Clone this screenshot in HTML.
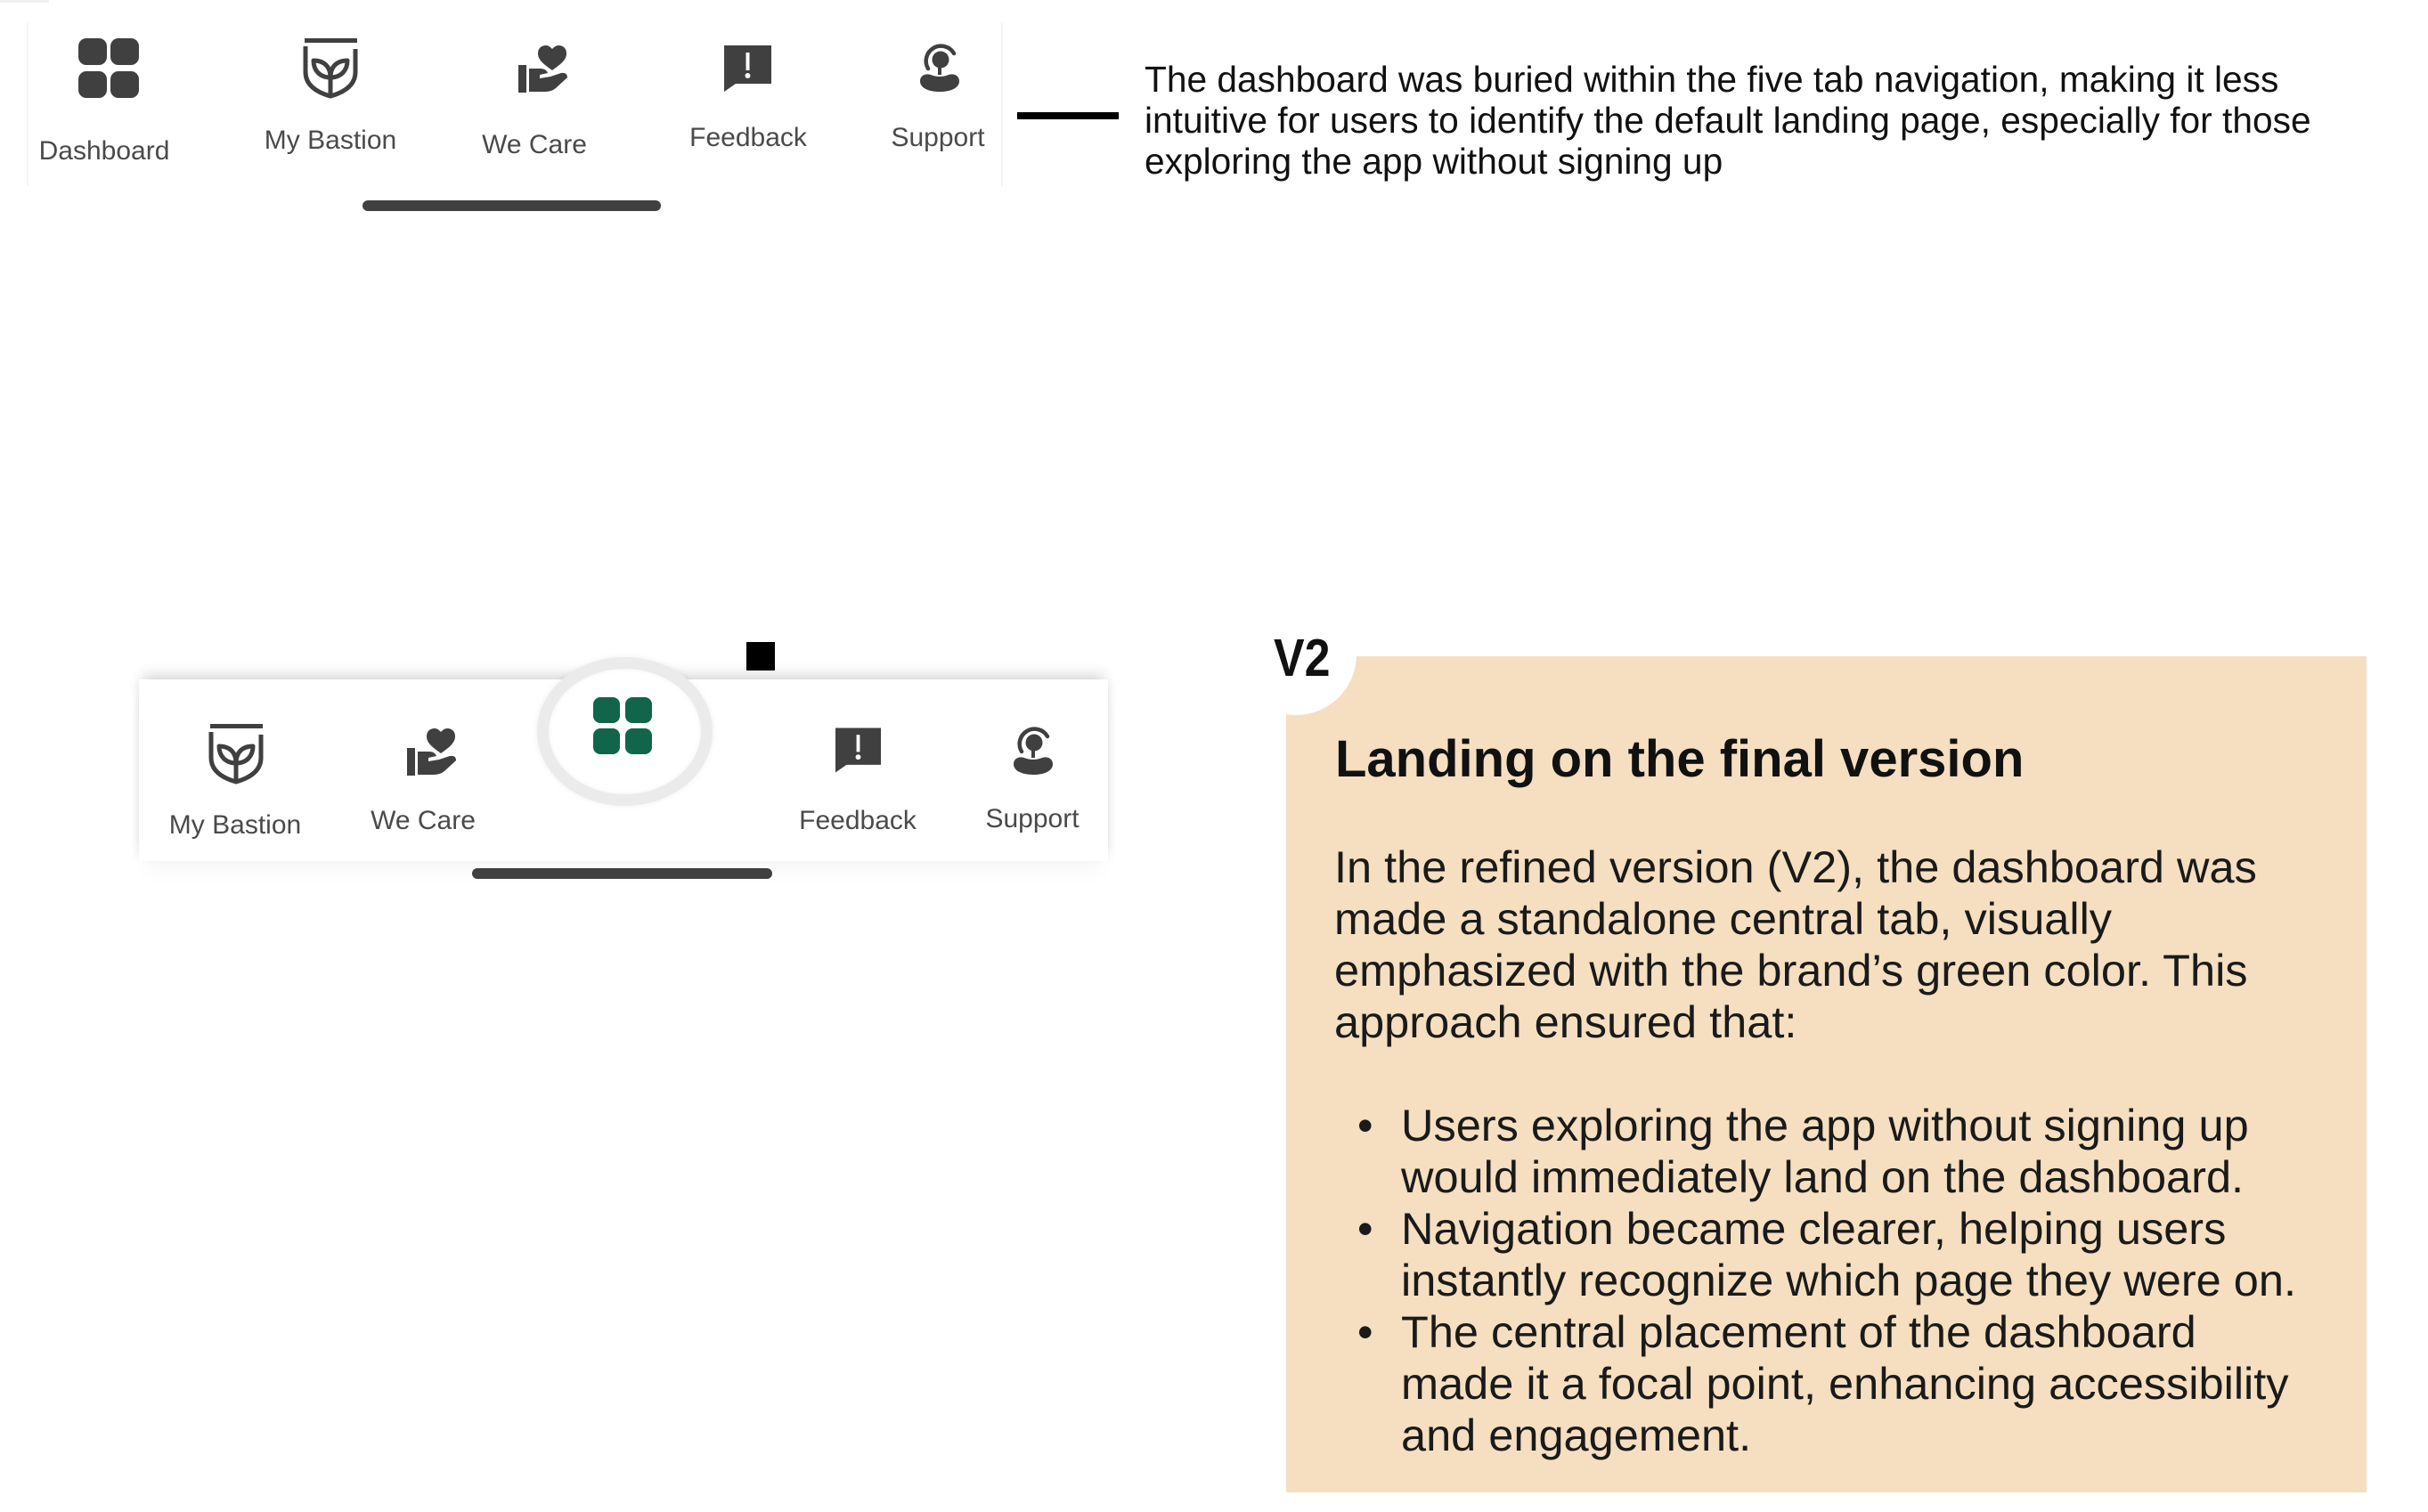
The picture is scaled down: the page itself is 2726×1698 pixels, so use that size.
<!DOCTYPE html>
<html>
<head>
<meta charset="utf-8">
<style>
  html,body{margin:0;padding:0;}
  body{width:2726px;height:1698px;position:relative;background:#ffffff;overflow:hidden;font-family:"Liberation Sans",Arial,sans-serif;}
  .abs{position:absolute;}
  .lbl{position:absolute;font-size:30px;line-height:30px;color:#4a4a4a;text-align:center;width:240px;white-space:nowrap;}
  .ico{position:absolute;overflow:visible;}
  .topline{position:absolute;left:1285px;font-size:40.7px;line-height:46px;color:#111;white-space:nowrap;}
  .bl{position:absolute;left:1498px;font-size:50.5px;line-height:58px;color:#1a1a1a;white-space:nowrap;}
  .bu{position:absolute;left:1573px;font-size:50.5px;line-height:58px;color:#1a1a1a;white-space:nowrap;}
  .dot{position:absolute;left:1524px;font-size:50px;line-height:58px;color:#1a1a1a;}
</style>
</head>
<body>

<!-- tiny grey mark top-left -->
<div class="abs" style="left:0;top:0;width:55px;height:3px;background:#f0f0f0;"></div>

<!-- ===== TOP NAV (V1) ===== -->
<div class="abs" style="left:30px;top:26px;width:1092px;height:183px;background:#fff;border-left:2px solid #f3f3f3;border-right:2px solid #f3f3f3;"></div>

<!-- Dashboard icon -->
<svg class="ico" style="left:88px;top:43px;" width="68" height="67" viewBox="0 0 68 67">
  <g fill="#404040">
    <rect x="0" y="0" width="32" height="30" rx="9"/>
    <rect x="36" y="0" width="32" height="30" rx="9"/>
    <rect x="0" y="37" width="32" height="30" rx="9"/>
    <rect x="36" y="37" width="32" height="30" rx="9"/>
  </g>
</svg>
<div class="lbl" style="left:-3px;top:155px;">Dashboard</div>

<!-- My Bastion icon -->
<svg class="ico" style="left:339px;top:43px;" width="65" height="67" viewBox="0 0 65 67">
  <g fill="none" stroke="#404040" stroke-width="5" stroke-linejoin="round">
    <path d="M3 2.5 H62"/>
    <path d="M4 9 V38 Q4 57 32 65 Q60 57 60 38 V12"/>
    <path d="M32 65 V36"/>
    <path d="M32 44 C20 44 13 36 13 25 C25 25 32 32 32 44 Z"/>
    <path d="M32 44 C44 44 51 36 51 25 C39 25 32 32 32 44 Z"/>
  </g>
</svg>
<div class="lbl" style="left:251px;top:143px;">My Bastion</div>

<!-- We Care icon -->
<svg class="ico" style="left:582px;top:51px;" width="55" height="53" viewBox="0 0 55 53">
  <g fill="#404040">
    <rect x="0" y="22" width="9" height="31"/>
    <path d="M38 28 C30 22 22 17 22 9 C22 3 26 0 31 0 C34 0 36 2 38 4 C40 2 42 0 45 0 C50 0 54 3 54 9 C54 17 46 22 38 28 Z"/>
    <path d="M12 26 H25 Q31 26 33 31 L24 33 V37 L36 35 L48 31 Q55 30 55 36 L42 48 Q37 52 30 52 H12 Z"/>
  </g>
</svg>
<div class="lbl" style="left:480px;top:148px;">We Care</div>

<!-- Feedback icon -->
<svg class="ico" style="left:813px;top:51px;" width="53" height="52" viewBox="0 0 53 52">
  <path d="M0 0 H53 V43 H13 L0 52 Z" fill="#404040"/>
  <rect x="24.5" y="8" width="4" height="20" fill="#fff"/>
  <circle cx="26.5" cy="34" r="3" fill="#fff"/>
</svg>
<div class="lbl" style="left:720px;top:140px;">Feedback</div>

<!-- Support icon -->
<svg class="ico" style="left:1033px;top:48px;" width="44" height="55" viewBox="0 0 44 55">
  <g fill="#404040">
    <circle cx="23" cy="19" r="9.5"/>
    <path d="M9 29 A16 16 0 1 1 38 12" fill="none" stroke="#404040" stroke-width="4.5" stroke-linecap="round"/>
    <path d="M0 43 C0 37 6 34 12 36 Q22 40 32 36 C38 34 44 37 44 43 C44 51 34 55 22 55 C10 55 0 51 0 43 Z"/>
    <rect x="20" y="26" width="4" height="10"/>
  </g>
</svg>
<div class="lbl" style="left:933px;top:140px;">Support</div>

<!-- top home bar -->
<div class="abs" style="left:407px;top:225px;width:335px;height:12px;border-radius:6px;background:#404040;"></div>

<!-- connector line -->
<div class="abs" style="left:1142px;top:126px;width:114px;height:8px;background:#000;"></div>

<!-- top text -->
<div class="topline" style="top:66px;">The dashboard was buried within the five tab navigation, making it less</div>
<div class="topline" style="top:112px;">intuitive for users to identify the default landing page, especially for those</div>
<div class="topline" style="top:158px;">exploring the app without signing up</div>

<!-- ===== BOTTOM NAV (V2) ===== -->
<div class="abs" style="left:156px;top:763px;width:1088px;height:204px;background:#fff;box-shadow:0 -10px 14px -4px rgba(0,0,0,0.14), -5px 0 8px -3px rgba(0,0,0,0.05), 5px 0 8px -3px rgba(0,0,0,0.05), 0 18px 22px -6px rgba(0,0,0,0.03);"></div>
<!-- central circle -->
<div class="abs" style="left:603px;top:738px;width:171px;height:141px;border-radius:50%;background:#fff;border:13px solid #ebebeb;box-shadow:0 0 7px rgba(0,0,0,0.07), inset 0 0 6px rgba(0,0,0,0.06);"></div>

<!-- green dashboard icon -->
<svg class="ico" style="left:666px;top:783px;" width="66" height="65" viewBox="0 0 66 65">
  <g fill="#10654a">
    <rect x="0" y="0" width="30" height="29" rx="8"/>
    <rect x="36" y="0" width="30" height="29" rx="8"/>
    <rect x="0" y="35" width="30" height="29" rx="8"/>
    <rect x="36" y="35" width="30" height="29" rx="8"/>
  </g>
</svg>

<!-- black square -->
<div class="abs" style="left:838px;top:721px;width:32px;height:32px;background:#000;"></div>

<!-- My Bastion bottom -->
<svg class="ico" style="left:233px;top:813px;" width="65" height="67" viewBox="0 0 65 67">
  <g fill="none" stroke="#404040" stroke-width="5" stroke-linejoin="round">
    <path d="M3 2.5 H62"/>
    <path d="M4 9 V38 Q4 57 32 65 Q60 57 60 38 V12"/>
    <path d="M32 65 V36"/>
    <path d="M32 44 C20 44 13 36 13 25 C25 25 32 32 32 44 Z"/>
    <path d="M32 44 C44 44 51 36 51 25 C39 25 32 32 32 44 Z"/>
  </g>
</svg>
<div class="lbl" style="left:144px;top:912px;">My Bastion</div>

<!-- We Care bottom -->
<svg class="ico" style="left:457px;top:818px;" width="55" height="53" viewBox="0 0 55 53">
  <g fill="#404040">
    <rect x="0" y="22" width="9" height="31"/>
    <path d="M38 28 C30 22 22 17 22 9 C22 3 26 0 31 0 C34 0 36 2 38 4 C40 2 42 0 45 0 C50 0 54 3 54 9 C54 17 46 22 38 28 Z"/>
    <path d="M12 26 H25 Q31 26 33 31 L24 33 V37 L36 35 L48 31 Q55 30 55 36 L42 48 Q37 52 30 52 H12 Z"/>
  </g>
</svg>
<div class="lbl" style="left:355px;top:907px;">We Care</div>

<!-- Feedback bottom -->
<svg class="ico" style="left:938px;top:817px;" width="51" height="51" viewBox="0 0 53 52">
  <path d="M0 0 H53 V43 H13 L0 52 Z" fill="#404040"/>
  <rect x="24.5" y="8" width="4" height="20" fill="#fff"/>
  <circle cx="26.5" cy="34" r="3" fill="#fff"/>
</svg>
<div class="lbl" style="left:843px;top:907px;">Feedback</div>

<!-- Support bottom -->
<svg class="ico" style="left:1138px;top:815px;" width="44" height="55" viewBox="0 0 44 55">
  <g fill="#404040">
    <circle cx="23" cy="19" r="9.5"/>
    <path d="M9 29 A16 16 0 1 1 38 12" fill="none" stroke="#404040" stroke-width="4.5" stroke-linecap="round"/>
    <path d="M0 43 C0 37 6 34 12 36 Q22 40 32 36 C38 34 44 37 44 43 C44 51 34 55 22 55 C10 55 0 51 0 43 Z"/>
    <rect x="20" y="26" width="4" height="10"/>
  </g>
</svg>
<div class="lbl" style="left:1039px;top:905px;">Support</div>

<!-- bottom home bar -->
<div class="abs" style="left:530px;top:975px;width:337px;height:12px;border-radius:6px;background:#404040;"></div>

<!-- ===== V2 PANEL ===== -->
<div class="abs" style="left:1444px;top:737px;width:1213px;height:939px;background:#f5dfc0;"></div>
<div class="abs" style="left:1387px;top:667px;width:136px;height:136px;border-radius:50%;background:#fff;"></div>
<div class="abs" style="left:1430px;top:710px;font-size:59px;line-height:59px;font-weight:bold;color:#111;transform:scaleX(0.88);transform-origin:left top;">V2</div>

<div class="abs" style="left:1499px;top:820px;font-size:58px;line-height:66px;font-weight:bold;color:#111;white-space:nowrap;">Landing on the final version</div>

<div class="bl" style="top:945px;">In the refined version (V2), the dashboard was</div>
<div class="bl" style="top:1003px;">made a standalone central tab, visually</div>
<div class="bl" style="top:1061px;">emphasized with the brand’s green color. This</div>
<div class="bl" style="top:1119px;">approach ensured that:</div>

<div class="dot" style="top:1235px;">•</div>
<div class="bu" style="top:1235px;">Users exploring the app without signing up</div>
<div class="bu" style="top:1293px;">would immediately land on the dashboard.</div>
<div class="dot" style="top:1351px;">•</div>
<div class="bu" style="top:1351px;">Navigation became clearer, helping users</div>
<div class="bu" style="top:1409px;">instantly recognize which page they were on.</div>
<div class="dot" style="top:1467px;">•</div>
<div class="bu" style="top:1467px;">The central placement of the dashboard</div>
<div class="bu" style="top:1525px;">made it a focal point, enhancing accessibility</div>
<div class="bu" style="top:1583px;">and engagement.</div>

</body>
</html>
